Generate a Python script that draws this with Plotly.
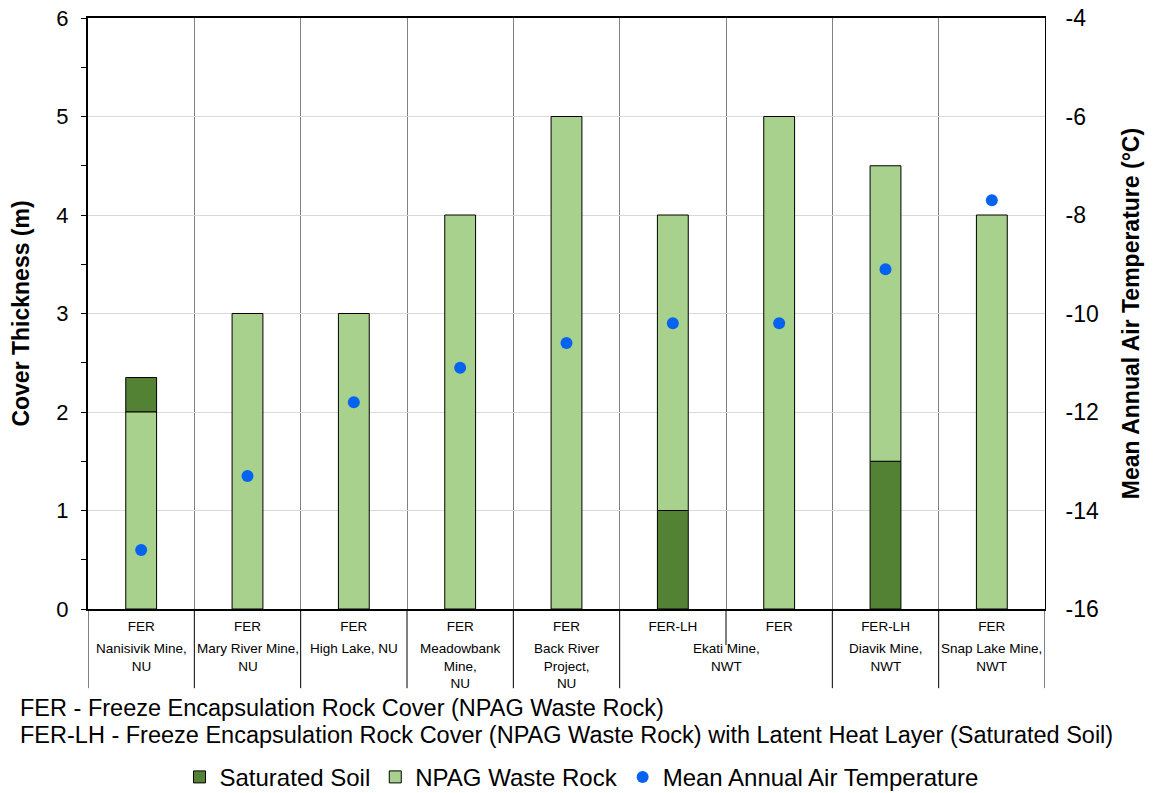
import plotly.graph_objects as go

# ---- data ----
sites = ["Nanisivik Mine,<br>NU", "Mary River Mine,<br>NU", "High Lake, NU",
         "Meadowbank<br>Mine,<br>NU", "Back River<br>Project,<br>NU",
         "Ekati Mine,<br>NWT", "Ekati Mine,<br>NWT", "Diavik Mine,<br>NWT",
         "Snap Lake Mine,<br>NWT"]
cover_types = ["FER", "FER", "FER", "FER", "FER", "FER-LH", "FER", "FER-LH", "FER"]
saturated_soil = [0.35, None, None, None, None, 1.0, None, 1.5, None]
npag_waste_rock = [2.0, 3.0, 3.0, 4.0, 5.0, 3.0, 5.0, 3.0, 4.0]
soil_on_top = [True, False, False, False, False, False, False, False, False]
mean_air_temp = [-14.8, -13.3, -11.8, -11.1, -10.6, -10.2, -10.2, -9.1, -7.7]

temp_tick_values = [-16, -14, -12, -10, -8, -6, -4]
temp_tick_labels = ["-16", "-14", "-12", "-10", "-8", "-6", "-4"]

footnotes = ["FER - Freeze Encapsulation Rock Cover (NPAG Waste Rock)",
             "FER-LH - Freeze Encapsulation Rock Cover (NPAG Waste Rock) with Latent Heat Layer (Saturated Soil)"]

# unique category keys
keys = [f"{s.replace('<br>', ' ')} | {c}" for s, c in zip(sites, cover_types)]

# bases for stacking (soil on top or bottom)
soil_base = [(n if top else 0) for n, top in zip(npag_waste_rock, soil_on_top)]
npag_base = [(0 if (top or s is None) else s) for s, top in zip(saturated_soil, soil_on_top)]

DARK = "#548235"
LIGHT = "#a9d18e"
BLUE = "#0563f0"
FONT = "Liberation Sans, Arial, sans-serif"

fig = go.Figure()
fig.add_trace(go.Bar(x=keys, y=saturated_soil, base=soil_base, name="Saturated Soil",
                     marker=dict(color=DARK, line=dict(color="black", width=1)),
                     width=0.29))
fig.add_trace(go.Bar(x=keys, y=npag_waste_rock, base=npag_base, name="NPAG Waste Rock",
                     marker=dict(color=LIGHT, line=dict(color="black", width=1)),
                     width=0.29))
fig.add_trace(go.Scatter(x=keys, y=mean_air_temp, yaxis="y2", mode="markers",
                         name="Mean Annual Air Temperature",
                         marker=dict(color=BLUE, size=12)))

# group labels (second row) and dividers below axis
shapes = []
annotations = []
groups = []
for i, s in enumerate(sites):
    if groups and groups[-1][0] == s:
        groups[-1][1].append(i)
    else:
        groups.append((s, [i]))
for s, idx in groups:
    annotations.append(dict(x=sum(idx) / len(idx), xref="x", y=-0.05, yref="paper",
                            yanchor="top", xanchor="center", text=s, showarrow=False,
                            font=dict(size=13.5, family=FONT, color="black"),
                            align="center"))
boundaries_full = [-0.5] + [idx[-1] + 0.5 for _, idx in groups]
for b in boundaries_full:
    shapes.append(dict(type="line", xref="x", yref="paper", x0=b, x1=b, y0=0, y1=-0.134,
                       line=dict(color="black", width=1), layer="above"))
for _, idx in groups:
    for j in idx[:-1]:
        shapes.append(dict(type="line", xref="x", yref="paper", x0=j + 0.5, x1=j + 0.5,
                           y0=0, y1=-0.061, line=dict(color="black", width=1), layer="above"))

for k, t in enumerate(footnotes):
    annotations.append(dict(x=-0.0731, xref="paper", y=[-0.1675, -0.2132][k], yref="paper",
                            xanchor="left", yanchor="middle", text=t, showarrow=False,
                            font=dict(size=23.5, family=FONT, color="black")))

# page body has an 8px margin, so the figure is 8px smaller than the window on each axis
fig.update_layout(
    width=1147, height=785,
    margin=dict(l=80, r=110, t=10, b=184, autoexpand=False),
    plot_bgcolor="white", paper_bgcolor="white",
    barmode="overlay",
    font=dict(family=FONT, color="black"),
    showlegend=True,
    legend=dict(orientation="h", xref="container", yref="container", x=0.5, y=0.02,
                xanchor="center", yanchor="middle", font=dict(size=24, family=FONT),
                itemwidth=30, traceorder="normal"),
    xaxis=dict(type="category", range=[-0.5, 8.5], tickson="boundaries",
               showgrid=True, gridcolor="#808080", gridwidth=1,
               tickvals=keys, ticktext=cover_types, ticks="",
               tickfont=dict(size=13.5, family=FONT), ticklabelstandoff=4,
               showline=True, linecolor="black", linewidth=2, mirror=True),
    yaxis=dict(range=[0, 6], dtick=1, tick0=0, ticks="outside", ticklen=5,
               tickcolor="black", tickwidth=1, ticklabeloverflow="allow",
               minor=dict(dtick=0.5, ticks="outside", ticklen=5, tickcolor="black"),
               showgrid=True, gridcolor="#d9d9d9", gridwidth=1, zeroline=False,
               showline=True, linecolor="black", linewidth=2,
               tickfont=dict(size=22, family=FONT), ticklabelstandoff=8,
               title=dict(text="<b>Cover Thickness (m)</b>", font=dict(size=23, family=FONT),
                          standoff=20)),
    yaxis2=dict(range=[-16, -4], tickvals=temp_tick_values, ticktext=temp_tick_labels,
                overlaying="y", side="right", ticklabeloverflow="allow",
                showgrid=False, zeroline=False, ticks="",
                showline=True, linecolor="black", linewidth=1,
                tickfont=dict(size=23, family=FONT), ticklabelstandoff=15,
                title=dict(text="<b>Mean Annual Air Temperature (°C)</b>",
                           font=dict(size=23, family=FONT), standoff=24)),
    shapes=shapes,
    annotations=annotations,
)

fig.write_html("out.html")
